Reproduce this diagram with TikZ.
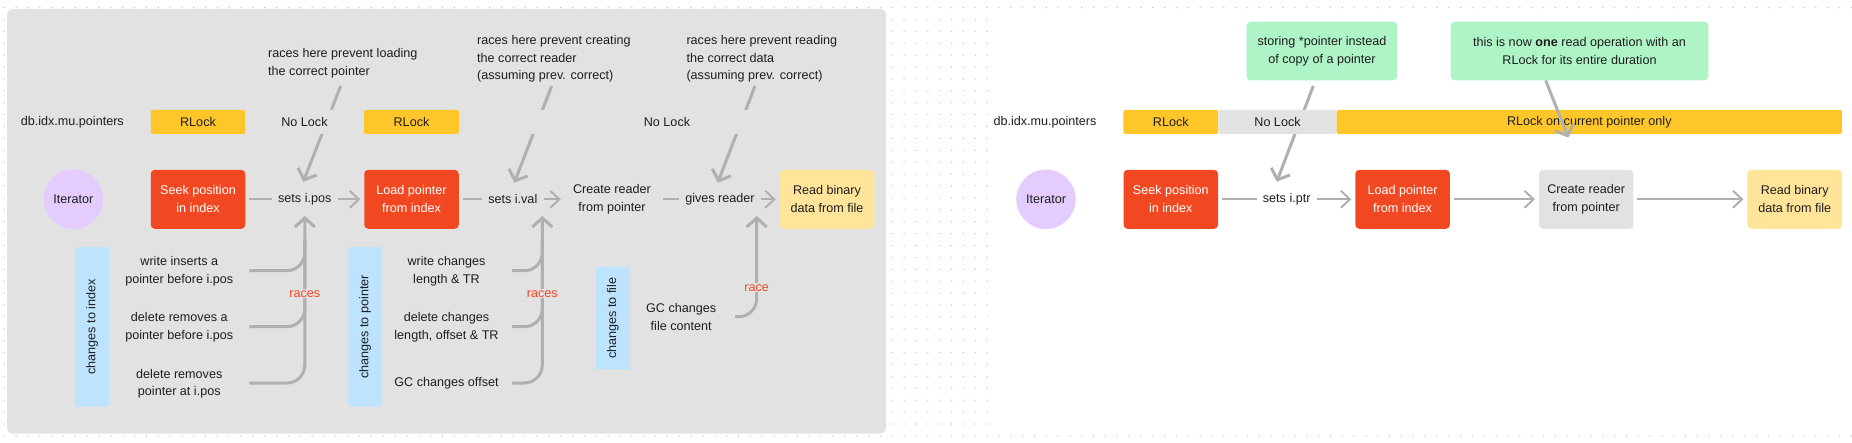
\documentclass[tikz,border=0pt]{standalone}
\usepackage{fontspec}
\setmainfont{Liberation Sans}
\usetikzlibrary{arrows.meta}
\definecolor{cbg}{HTML}{E2E2E2}
\definecolor{cdot}{HTML}{CCCCCC}
\definecolor{carrow}{HTML}{B0B0B0}
\definecolor{cred}{HTML}{F24822}
\definecolor{cyel}{HTML}{FFC629}
\definecolor{clyel}{HTML}{FFE499}
\definecolor{cpurp}{HTML}{E4CCFF}
\definecolor{cblue}{HTML}{BDE3FF}
\definecolor{cgreen}{HTML}{AFF4C6}
\definecolor{cnolock}{HTML}{E2E2E2}
\definecolor{ctext}{HTML}{1E1E1E}
\newcommand{\dfont}{\fontsize{12.6}{17.7}\selectfont}
\begin{document}
\begin{tikzpicture}[x=1pt,y=-1pt,
  every node/.style={font=\dfont, text=ctext},
  box/.style={rectangle, rounded corners=4pt, minimum width=94.5pt, minimum height=59pt, inner sep=0pt, outer sep=4pt, align=center},
  redbox/.style={box, fill=cred, text=white},
  ybox/.style={box, fill=clyel},
  gbox/.style={box, fill=cnolock},
  plainbox/.style={box},
  circ/.style={circle, fill=cpurp, minimum size=59.4pt, inner sep=0pt},
  lbl/.style={inner xsep=6pt, inner ysep=2pt},
  lockbar/.style={rectangle, rounded corners=2pt, minimum height=24pt, inner sep=0pt},
  txt/.style={align=center, inner sep=0pt},
  ann/.style={align=left, anchor=west, inner sep=0pt},
  vbox/.style={rectangle, rounded corners=2pt, fill=cblue, rotate=90, inner sep=0pt},
  greenbox/.style={rectangle, rounded corners=4pt, fill=cgreen, align=center, minimum height=58.6pt, inner sep=0pt},
  racelbl/.style={text=cred, fill=cbg, inner xsep=1pt, inner ysep=1pt},
  flowline/.style={draw=carrow, line width=2pt},
  flow/.style={flowline, -{Straight Barb[length=9pt,width=17pt]}},
  raceline/.style={draw=carrow, line width=3pt, rounded corners=18pt},
  race/.style={raceline, -{Straight Barb[length=9pt,width=20pt]}},
  annot/.style={draw=carrow, line width=3pt, -{Straight Barb[length=9pt,width=20pt]}},
]
\useasboundingbox (0,0) rectangle (1852,443);
% dot grid (visible parts)
\foreach \i in {0,...,156} {
  \fill[cdot] ({4.3+11.84*\i},7.5) circle[radius=0.8pt];
  \fill[cdot] ({4.3+11.84*\i},435.9) circle[radius=0.8pt];
}
\foreach \j in {1,...,35} {
  \fill[cdot] (4.3,{7.5+11.9*\j}) circle[radius=0.8pt];
  \foreach \i in {75,...,83} { \fill[cdot] ({4.3+11.84*\i},{7.5+11.9*\j}) circle[radius=0.8pt]; }
}
% left frame
\fill[cbg, rounded corners=6pt] (7,9) rectangle (886,433.5);

% ---------- LEFT PANEL ----------
\node[ann] (t1) at (268,63.2) {races here prevent loading\\the correct pointer};
\node[ann] (t2) at (477,59) {races here prevent creating\\the correct reader\\(assuming prev. correct)};
\node[ann] (t3) at (686.3,59) {races here prevent reading\\the correct data\\(assuming prev. correct)};
\node (dbL) at (72.3,122.7) {db.idx.mu.pointers};

\node[circ] (itL) at (73.3,199.3) {Iterator};
\node[redbox] (seekL) at (198,199.3) {Seek position\\in index};
\node[lbl] (posL) at (304.8,199.3) {sets i.pos};
\node[redbox] (loadL) at (411.5,199.3) {Load pointer\\from index};
\node[lbl] (valL) at (512.8,199.3) {sets i.val};
\node[plainbox] (createL) at (612,199.3) {Create reader\\from pointer};
\node[lbl] (givesL) at (720,199.3) {gives reader};
\node[ybox] (readL) at (827,199.3) {Read binary\\data from file};

\coordinate (a1) at (340.7,86);
\coordinate (a2) at (551.7,86);
\coordinate (a3) at (755,86);
\draw[annot] (a1) -- ([shift={(-1.5pt,17.6pt)}]posL.center);
\draw[annot] (a2) -- ([shift={(1.5pt,16.6pt)}]valL.center);
\draw[annot] (a3) -- ([shift={(-2.3pt,16.6pt)}]givesL.center);

\node[lockbar, fill=cyel, minimum width=94.5pt] (rl1) at (198,122) {RLock};
\node[lockbar, fill=cbg, minimum width=119pt] (nl1) at (304.5,122) {No Lock};
\node[lockbar, fill=cyel, minimum width=95pt] (rl2) at (411.5,122) {RLock};
\node[lockbar, fill=cbg, minimum width=416pt] (nl2) at (667,122) {No Lock};

\draw[flowline] (seekL) -- (posL);
\draw[flow] (posL) -- (loadL);
\draw[flowline] (loadL) -- (valL);
\draw[flow] (valL) -- (createL);
\draw[flowline] (createL) -- (givesL);
\draw[flow] (givesL) -- (readL);

% changes to index
\node[vbox, minimum width=159.7pt, minimum height=34pt] (cti) at (92,326.8) {changes to index};
\node[txt] (w1) at (179.3,271) {write inserts a\\pointer before i.pos};
\node[txt] (w2) at (179.3,327.3) {delete removes a\\pointer before i.pos};
\node[txt] (w3) at (179.3,383.7) {delete removes\\pointer at i.pos};
\coordinate (ri1) at (249.3,270.7);
\coordinate (ri2) at (249.3,326.7);
\coordinate (ri3) at (249.3,383);
\draw[raceline] (ri1) -| ([shift={(0pt,-40pt)}]posL.center);
\draw[raceline] (ri2) -| ([shift={(0pt,-40pt)}]posL.center);
\draw[race] (ri3) -| ([shift={(0pt,-16.7pt)}]posL.center);
\node[racelbl] (rc1) at (304.8,293.7) {races};

% changes to pointer
\node[vbox, minimum width=159.7pt, minimum height=33.4pt] (ctp) at (365,326.8) {changes to pointer};
\node[txt] (p1) at (446.5,271) {write changes\\length \& TR};
\node[txt] (p2) at (446.5,327.3) {delete changes\\length, offset \& TR};
\node[txt] (p3) at (446.5,383.7) {GC changes offset};
\coordinate (rp1) at (512,270.7);
\coordinate (rp2) at (512,326.7);
\coordinate (rp3) at (512,383);
\draw[raceline] (rp1) -| ([shift={(29.5pt,-40pt)}]valL.center);
\draw[raceline] (rp2) -| ([shift={(29.5pt,-40pt)}]valL.center);
\draw[race] (rp3) -| ([shift={(29.5pt,-16.7pt)}]valL.center);
\node[racelbl] (rc2) at (542.3,293.7) {races};

% changes to file
\node[vbox, minimum width=102.3pt, minimum height=34.3pt] (ctf) at (612.9,318.2) {changes to file};
\node[txt] (f1) at (681.2,317.3) {GC changes\\file content};
\coordinate (rf1) at (735,316.7);
\draw[race] (rf1) -| ([shift={(36.7pt,-16.7pt)}]givesL.center);
\node[racelbl] (rc3) at (756.7,287.7) {race};

% ---------- RIGHT PANEL ----------
\node (dbR) at (1045,122.7) {db.idx.mu.pointers};
\node[greenbox, minimum width=150.6pt] (gb1) at (1322,51) {storing *pointer instead\\of copy of a pointer};
\node[greenbox, minimum width=257.6pt] (gb2) at (1579.5,51) {this is now \textbf{one} read operation with an\\RLock for its entire duration};

\node[circ] (itR) at (1046,199.3) {Iterator};
\node[redbox] (seekR) at (1170.8,199.3) {Seek position\\in index};
\node[lbl] (ptrR) at (1286.7,199.3) {sets i.ptr};
\node[redbox] (loadR) at (1402.6,199.3) {Load pointer\\from index};
\node[gbox] (createR) at (1586.2,199.3) {Create reader\\from pointer};
\node[ybox] (readR) at (1794.7,199.3) {Read binary\\data from file};

\coordinate (g1) at (1313.3,86);
\draw[annot] (g1) -- ([shift={(-10pt,17.6pt)}]ptrR.center);

\node[lockbar, fill=cyel, minimum width=95pt] (rl3) at (1170.8,122) {RLock};
\node[lockbar, fill=cnolock, minimum width=118.4pt] (nl3) at (1277.5,122) {No Lock};
\node[lockbar, fill=cyel, minimum width=505.3pt] (rl4) at (1589.3,122) {RLock on current pointer only};

\draw[annot] ([xshift=-33.8pt]gb2.south) -- ([shift={(-17.9pt,28.3pt)}]createR.north);

\draw[flowline] (seekR) -- (ptrR);
\draw[flow] (ptrR) -- (loadR);
\draw[flow] (loadR) -- (createR);
\draw[flow] (createR) -- (readR);
\end{tikzpicture}
\end{document}
